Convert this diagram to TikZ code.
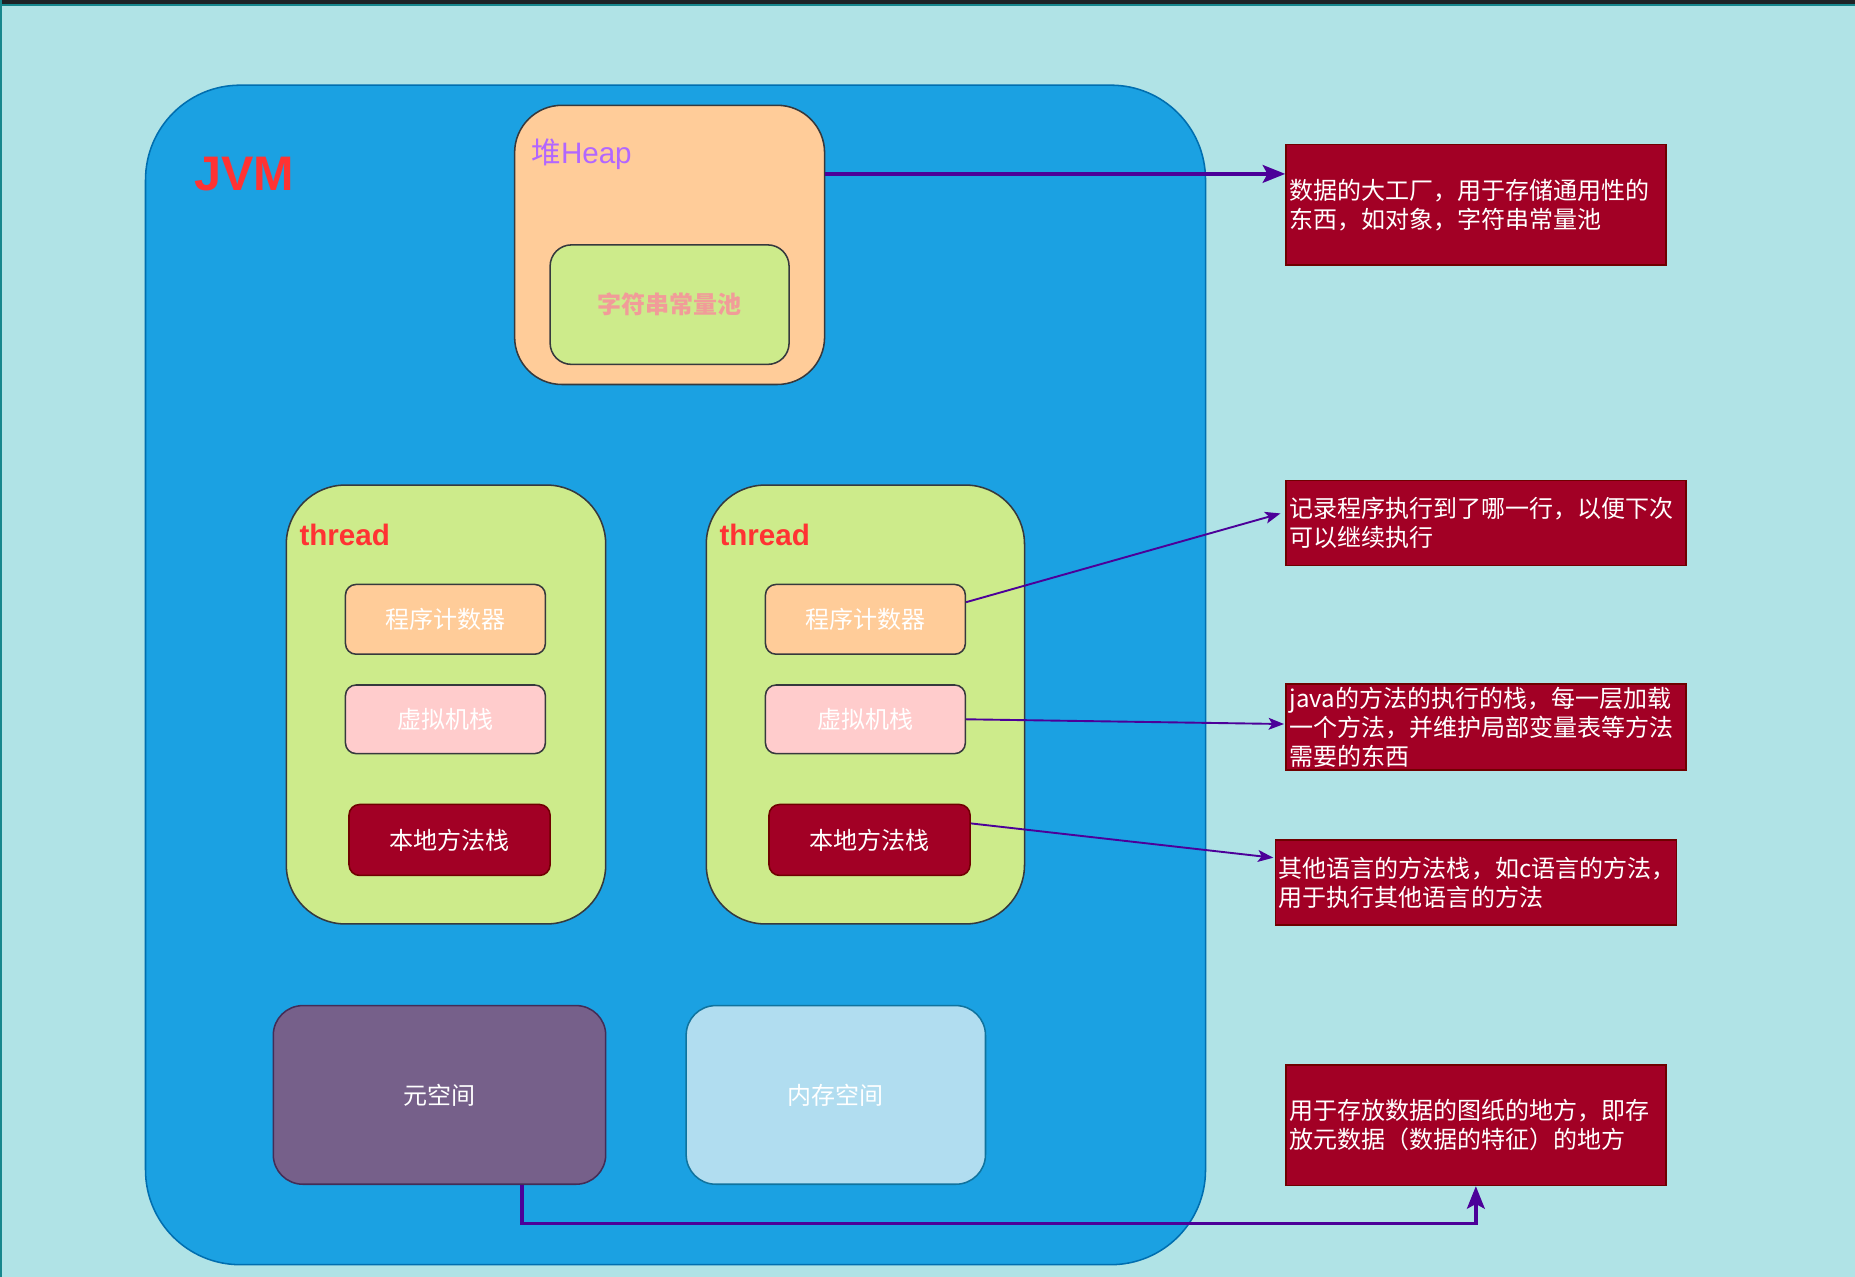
\documentclass[tikz,border=0pt]{standalone}
\usepackage{fontspec}
\setmainfont{Liberation Sans}
\newfontfamily\cjk{Noto Sans CJK SC}
\usetikzlibrary{arrows.meta}
\definecolor{bg}{HTML}{B0E3E6}
\definecolor{jvmfill}{HTML}{1BA1E2}
\definecolor{jvmline}{HTML}{006EAF}
\definecolor{orangefill}{HTML}{FFCC99}
\definecolor{greyline}{HTML}{36393D}
\definecolor{greenfill}{HTML}{CDEB8B}
\definecolor{pinkfill}{HTML}{FFCCCC}
\definecolor{nred}{HTML}{A20025}
\definecolor{nredline}{HTML}{6F0000}
\definecolor{metafill}{HTML}{76608A}
\definecolor{metaline}{HTML}{432D57}
\definecolor{memfill}{HTML}{B1DDF0}
\definecolor{memline}{HTML}{10739E}
\definecolor{arrowcol}{HTML}{4C0099}
\definecolor{redtext}{HTML}{FF3333}
\definecolor{heaptext}{HTML}{B266FF}
\definecolor{pooltext}{HTML}{F19C99}
\definecolor{topbar}{HTML}{1E2326}
\definecolor{topline}{HTML}{17878D}
\begin{document}
\begin{tikzpicture}[x=1pt,y=-1pt,
  base/.style={draw, line width=1.3pt, inner sep=0pt, align=center},
  cjkfont/.style={font=\cjk\fontsize{20.3pt}{24.5pt}\selectfont},
  inbox/.style={base, cjkfont, text=white, rounded corners=9pt},
  note/.style={draw=nredline, fill=nred, line width=1.3pt, text=white, align=left,
    inner xsep=3pt, inner ysep=0pt, cjkfont},
  thinarrow/.style={draw=arrowcol, line width=1.6pt, -{Stealth[length=13pt,width=10pt,inset=3pt]}},
  thickarrow/.style={draw=arrowcol, line width=3pt, -{Stealth[length=19pt,width=15pt,inset=4pt]}},
  label/.style={anchor=west, inner sep=0pt}
]
\useasboundingbox (0,0) rectangle (1568,1079);
% background
\fill[bg] (0,0) rectangle (1568,1079);
\fill[topbar] (0,0) rectangle (1568,3.4);
\fill[topline] (0,3.4) rectangle (1568,5);
\fill[topline] (0,0) rectangle (1.4,1079);

% JVM container
\node[base, draw=jvmline, fill=jvmfill, rounded corners=80pt, minimum width=896, minimum height=997] (jvm) at (571,570.5) {};
\node[label, text=redtext, font=\bfseries\fontsize{41pt}{41pt}\selectfont] (jvmlabel) at (164,147) {JVM};

% Heap
\node[base, draw=greyline, fill=orangefill, rounded corners=40pt, minimum width=262, minimum height=236] (heap) at (566,207) {};
\node[label, text=heaptext, font=\fontsize{25pt}{25pt}\selectfont] (heaplabel) at (449,130) {{\cjk 堆}Heap};
\node[base, draw=greyline, fill=greenfill, rounded corners=18pt, minimum width=202, minimum height=101,
  text=pooltext, font=\cjk\bfseries\fontsize{20.3pt}{24pt}\selectfont] (pool) at (566,257.5) {字符串常量池};

% Threads
\node[base, draw=greyline, fill=greenfill, rounded corners=50pt, minimum width=270, minimum height=371] (t1) at (377,595.5) {};
\node[base, draw=greyline, fill=greenfill, rounded corners=50pt, minimum width=269, minimum height=371] (t2) at (731.5,595.5) {};
\node[label, text=redtext, font=\bfseries\fontsize{25pt}{25pt}\selectfont] (t1label) at (253,452) {thread};
\node[label, text=redtext, font=\bfseries\fontsize{25pt}{25pt}\selectfont] (t2label) at (608,452) {thread};

\node[inbox, draw=greyline, fill=orangefill, minimum width=169, minimum height=59] (pc1) at (376.5,523.5) {程序计数器};
\node[inbox, draw=greyline, fill=orangefill, minimum width=169, minimum height=59] (pc2) at (731.5,523.5) {程序计数器};
\node[inbox, draw=greyline, fill=pinkfill, minimum width=169, minimum height=58] (vm1) at (376.5,608) {虚拟机栈};
\node[inbox, draw=greyline, fill=pinkfill, minimum width=169, minimum height=58] (vm2) at (731.5,608) {虚拟机栈};
\node[inbox, draw=nredline, fill=nred, minimum width=170, minimum height=60] (nm1) at (380,710) {本地方法栈};
\node[inbox, draw=nredline, fill=nred, minimum width=170, minimum height=60] (nm2) at (735,710) {本地方法栈};

% Meta space and memory space
\node[inbox, draw=metaline, fill=metafill, rounded corners=25pt, minimum width=281, minimum height=151] (meta) at (371.5,925.5) {元空间};
\node[inbox, draw=memline, fill=memfill, rounded corners=25pt, minimum width=253, minimum height=151] (mem) at (706.5,925.5) {内存空间};

% Notes
\node[note, text width=315, minimum height=102] (nA) at (1247.5,173) {数据的大工厂，用于存储通用性的\\东西，如对象，字符串常量池};
\node[note, text width=332, minimum height=72] (nB) at (1256,442) {记录程序执行到了哪一行，以便下次\\可以继续执行};
\node[note, text width=332, minimum height=73] (nC) at (1256,614.5) {java的方法的执行的栈，每一层加载\\一个方法，并维护局部变量表等方法\\需要的东西};
\node[note, text width=333, minimum height=72] (nD) at (1247.5,746) {其他语言的方法栈，如c语言的方法，\\用于执行其他语言的方法};
\node[note, text width=315, minimum height=102] (nE) at (1247.5,951) {用于存放数据的图纸的地方，即存\\放元数据（数据的特征）的地方};

% Connectors
\coordinate (hy) at (0,147);
\draw[thickarrow] (heap.east |- hy) -- (nA.west |- hy);
\draw[thinarrow] ([yshift=14.5pt]pc2.east) -- ([yshift=8pt,xshift=-4pt]nB.west);
\draw[thinarrow] (vm2.east) -- ([yshift=2.5pt,xshift=-1pt]nC.west);
\draw[thinarrow] ([yshift=14pt]nm2.east) -- ([yshift=21pt,xshift=-1pt]nD.west);
\coordinate (mx) at (441,1034);
\draw[thickarrow] (meta.south -| mx) -- (mx) -| (nE.south);
\end{tikzpicture}
\end{document}
